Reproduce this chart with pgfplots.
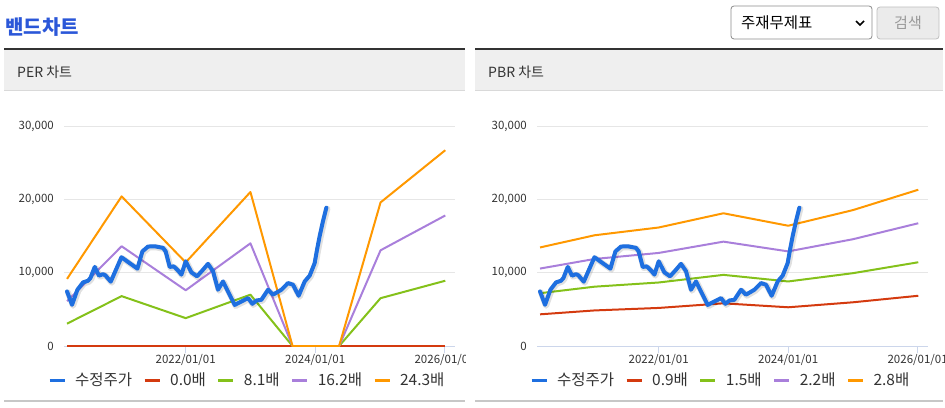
\documentclass[border=0pt]{standalone}
\usepackage{pgfplots}
\pgfplotsset{compat=1.18}
\usepackage{fontspec}
\setmainfont{Noto Sans CJK KR}

\definecolor{cBlue}{HTML}{1E6FE0}
\definecolor{cRed}{HTML}{D43A0F}
\definecolor{cGreen}{HTML}{84C11A}
\definecolor{cPurple}{HTML}{A97FDB}
\definecolor{cOrange}{HTML}{FF9800}
\definecolor{cTitle}{HTML}{2B57D8}
\definecolor{cText}{HTML}{333333}
\definecolor{cGrid}{HTML}{E6E6E6}
\definecolor{cAxis}{HTML}{CCD6EB}
\definecolor{cHead}{HTML}{EFEFEF}

% adjusted price (year, won)
\pgfplotstableread{
x y
2020.167 7440
2020.244 5620
2020.327 7670
2020.414 8670
2020.491 8900
2020.528 9270
2020.595 10780
2020.661 9590
2020.723 9800
2020.760 9630
2020.842 8770
2021.007 12100
2021.254 10550
2021.331 12900
2021.418 13560
2021.521 13600
2021.649 13380
2021.691 12900
2021.753 10780
2021.815 10860
2021.881 10300
2021.934 9730
2022.000 11550
2022.088 10040
2022.175 9500
2022.267 10400
2022.344 11200
2022.422 10200
2022.499 7670
2022.576 8800
2022.653 7440
2022.757 5600
2022.860 6070
2022.962 6530
2023.030 5750
2023.092 6200
2023.169 6300
2023.271 7670
2023.348 7000
2023.478 7670
2023.580 8580
2023.657 8360
2023.745 6850
2023.838 8800
2023.915 9600
2023.992 11300
2024.028 13100
2024.069 14970
2024.120 17000
2024.173 18860
}\price

% PER bands
\pgfplotstableread{
x r g p o
2020.167 0 3050 6100 9150
2021.010 0 6800 13600 20400
2022.000 0 3800 7600 11400
2023.000 0 7000 14000 21000
2023.650 0 0 0 0
2024.370 0 0 0 0
2025.010 0 6520 13050 19580
2026.010 0 8900 17800 26700
}\per

% PBR bands
\pgfplotstableread{
x r g p o
2020.167 4320 7200 10560 13440
2021.010 4850 8090 11870 15100
2022.000 5190 8660 12690 16160
2023.000 5820 9700 14230 18100
2024.000 5280 8800 12900 16400
2025.000 5960 9930 14560 18530
2026.010 6850 11420 16740 21310
}\pbr

\pgfplotsset{
  bandaxis/.style={
    scale only axis, width=391pt, height=220pt,
    xmin=2020.12, xmax=2026.16, ymin=0, ymax=30000,
    axis lines*=left,
    x axis line style={draw=cAxis, line width=1pt, -},
    y axis line style={draw=none},
    ytick={0,10000,20000,30000},
    xtick={2022,2024,2026},
    xticklabels={2022/01/01,2024/01/01,2026/01/01},
    tick align=outside, major tick length=7pt,
    xtick style={draw=cAxis, line width=1pt},
    ytick style={draw=none},
    ymajorgrids, major grid style={draw=cGrid, line width=1pt},
    scaled y ticks=false,
    /pgf/number format/.cd, fixed, 1000 sep={,}, assume math mode=true, /pgfplots/.cd,
    ticklabel style={font=\fontsize{11.5}{13}\selectfont, text=cText},
    yticklabel style={inner sep=0pt, xshift=-3pt},
    xticklabel style={inner sep=0pt, yshift=-1pt},
    legend columns=-1,
    legend image code/.code={\draw[##1, line width=3pt, line cap=butt] (0pt,0pt) -- (15pt,0pt);},
    legend style={draw=none, fill=none, inner sep=0pt, anchor=west,
      font=\fontsize{15.5}{18}\selectfont, text=cText,
      nodes={inner sep=0pt},
      /tikz/every odd column/.append style={column sep=9pt},
      /tikz/every even column/.append style={column sep=11pt}},
    band/.style={line width=2pt, line join=round},
    pricel/.style={cBlue, line width=4pt, line join=round, line cap=round},
    shadowl/.style={black, opacity=0.12, line width=6pt, line join=round, line cap=round, xshift=1pt, yshift=-1pt},
  }
}

\begin{document}
\begin{tikzpicture}[x=1pt,y=1pt]
\useasboundingbox (0,0) rectangle (945,407);

% page header
\node[anchor=west, inner sep=0pt, text=cTitle, font=\fontsize{20}{22}\selectfont\bfseries] at (5,380) {밴드차트};
\draw[rounded corners=3pt, draw=black!45, fill=white, line width=0.8pt] (731,368) rectangle (872,401);
\node[anchor=west, inner sep=0pt, text=black, font=\fontsize{15.5}{17}\selectfont] at (741,384.5) {주재무제표};
\draw[line width=1.6pt] (856,386) -- (860,382) -- (864,386);
\draw[rounded corners=3pt, draw=black!25, fill=black!8, line width=0.8pt] (877,368) rectangle (939,400);
\node[inner sep=0pt, text=black!40, font=\fontsize{15}{17}\selectfont] at (908,384) {검색};

% panel frames
\foreach \xa/\xb/\lab in {4/465/PER 차트, 475/943/PBR 차트}{
  \fill[cHead] (\xa,316) rectangle (\xb,358);
  \draw[cText, line width=2.5pt] (\xa,358) -- (\xb,358);
  \draw[black!15, line width=1pt] (\xa,316) -- (\xb,316);
  \draw[black!22, line width=2pt] (\xa,6) -- (\xb,6);
  \node[anchor=west, inner sep=0pt, text=cText, font=\fontsize{14}{16}\selectfont] at (\xa+13,335) {\lab};
}

% PER chart
\begin{axis}[bandaxis, at={(64pt,61pt)}, anchor=origin,
  legend style={at={(axis description cs:-0.041,-0.155)}}]
\addlegendimage{cBlue, line width=4pt}
\addplot[band, cRed] table[x=x, y=r] {\per};
\addplot[band, cGreen] table[x=x, y=g] {\per};
\addplot[band, cPurple] table[x=x, y=p] {\per};
\addplot[band, cOrange] table[x=x, y=o] {\per};
\addplot[shadowl, forget plot] table {\price};
\addplot[pricel, forget plot] table {\price};
\legend{수정주가, 0.0배, 8.1배, 16.2배, 24.3배}
\end{axis}

% PBR chart
\begin{axis}[bandaxis, at={(537pt,61pt)}, anchor=origin,
  legend style={at={(axis description cs:-0.018,-0.155)}}]
\addlegendimage{cBlue, line width=4pt}
\addplot[band, cRed] table[x=x, y=r] {\pbr};
\addplot[band, cGreen] table[x=x, y=g] {\pbr};
\addplot[band, cPurple] table[x=x, y=p] {\pbr};
\addplot[band, cOrange] table[x=x, y=o] {\pbr};
\addplot[shadowl, forget plot] table {\price};
\addplot[pricel, forget plot] table {\price};
\legend{수정주가, 0.9배, 1.5배, 2.2배, 2.8배}
\end{axis}

% the left chart clips its last date label
\fill[white] (466,30) rectangle (474.5,60);
\end{tikzpicture}
\end{document}
